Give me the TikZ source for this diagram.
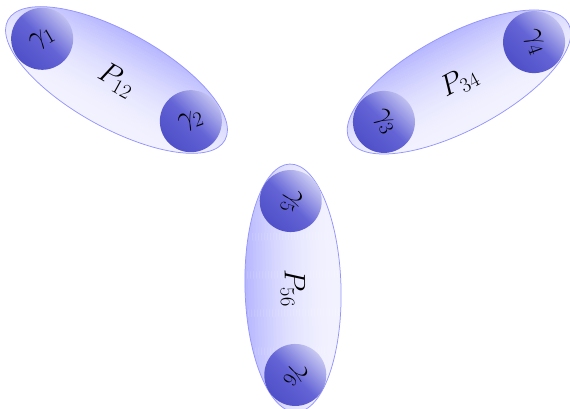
\RequirePackage{fix-cm}
\documentclass[tikz,border=0pt]{standalone}
\usetikzlibrary{shapes.geometric}
\definecolor{balldark}{RGB}{76,76,198}
\definecolor{ballmid}{RGB}{100,100,214}
\definecolor{balllight}{RGB}{205,205,244}
\newcommand\bigfont{\fontsize{29.5}{35}\selectfont}
\tikzset{
  pair/.style={ellipse, draw=blue!42, line width=0.75pt, minimum width=248pt,
    minimum height=96pt, inner sep=0pt, font=\bigfont},
  ball/.style={circle, minimum size=62pt, inner sep=0pt, top color=balllight,
    bottom color=balldark, middle color=ballmid, shading angle=-45, font=\bigfont},
  pairshade/.pic={
    \clip (0,0) ellipse [x radius=124, y radius=48];
    \foreach \k in {0,...,31} {
      \pgfmathsetmacro\pc{5+24*((\k+0.5)/32)^2}
      \fill[blue!\pc] (-130,-48+3*\k) rectangle (130,-48+3*\k+3.3);
    }
  },
}
\begin{document}
\begin{tikzpicture}[x=1pt,y=1pt]
\useasboundingbox (0,0) rectangle (570,408);
\coordinate (c12) at (116.5,328);
\coordinate (c34) at (459,326);
\coordinate (c56) at (293,120);
\begin{scope}
  \pic[rotate=-29] at (c12) {pairshade};
\end{scope}
\begin{scope}
  \pic[rotate=28] at (c34) {pairshade};
\end{scope}
\begin{scope}
  \pic[rotate=91.5] at (c56) {pairshade};
\end{scope}
\node[pair, rotate=-29] (p12) at (c12) {$P_{12}$};
\node[pair, rotate=28] (p34) at (c34) {$P_{34}$};
\node[pair, rotate=-88.5] (p56) at (c56) {$P_{56}$};
\path (p12) ++(-29:-85) node[ball, rotate=30] (g1) {$\gamma_1$};
\path (p12) ++(-29:85) node[ball, rotate=20] (g2) {$\gamma_2$};
\path (p34) ++(28:-85) node[ball, rotate=-62] (g3) {$\gamma_3$};
\path (p34) ++(28:85) node[ball, rotate=-70] (g4) {$\gamma_4$};
\path (p56) ++(-88.5:-87) node[ball, rotate=-108] (g5) {$\gamma_5$};
\path (p56) ++(-88.5:87) node[ball, rotate=-122] (g6) {$\gamma_6$};
\end{tikzpicture}
\end{document}
